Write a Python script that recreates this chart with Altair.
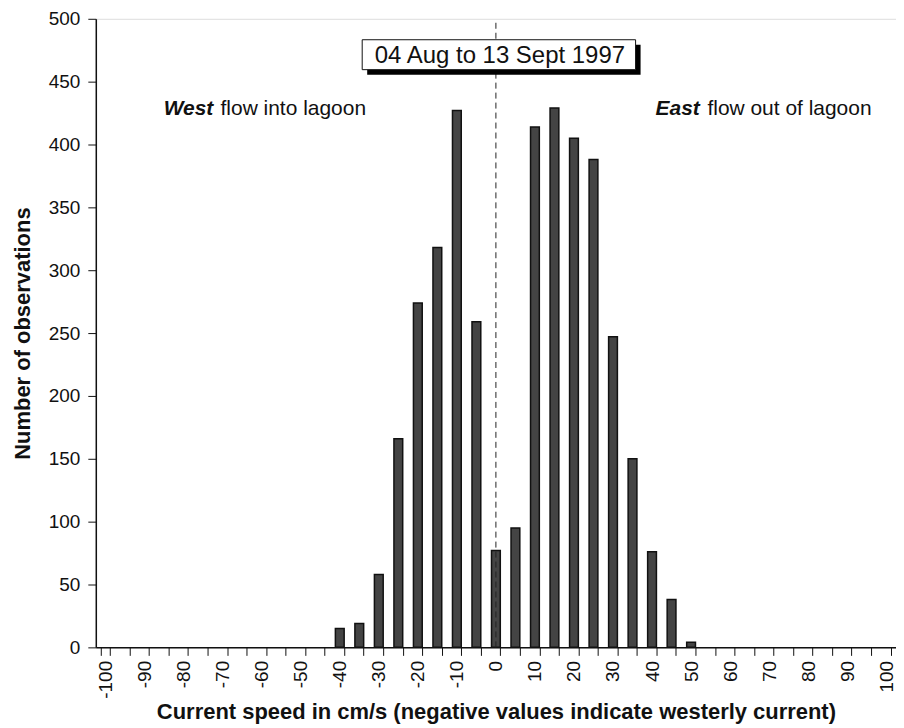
import altair as alt
import pandas as pd

# x categories (cm/s), one per 5 cm/s class
categories = [-100, -95, -90, -85, -80, -75, -70, -65, -60, -55, -50, -45, -40, -35,
              -30, -25, -20, -15, -10, -5, 0, 5, 10, 15, 20, 25, 30, 35, 40, 45, 50,
              55, 60, 65, 70, 75, 80, 85, 90, 95, 100]
# bars that are present
speeds = [-40, -35, -30, -25, -20, -15, -10, -5, 0, 5, 10, 15, 20, 25, 30, 35, 40, 45, 50]
counts = [15, 19, 58, 166, 274, 318, 427, 259, 77, 95, 414, 429, 405, 388, 247, 150, 76, 38, 4]

y_ticks = [0, 50, 100, 150, 200, 250, 300, 350, 400, 450, 500]
date_label = ["04 Aug to 13 Sept 1997"]
west_bold, west_rest = "West", "flow into lagoon"
east_bold, east_rest = "East", "flow out of lagoon"

FONT = "Liberation Sans"
W, H = 802, 630

bars_df = pd.DataFrame({"speed": speeds, "count": counts})

xscale = alt.Scale(domain=categories, paddingInner=0.55, paddingOuter=0.275)
yscale = alt.Scale(domain=[0, 500], nice=False)

xaxis = alt.Axis(
    title="Current speed in cm/s (negative values indicate westerly current)",
    labelExpr="datum.value % 10 == 0 ? datum.label : ''",
    labelAngle=270, labelFont=FONT, labelFontSize=19, labelColor="#111",
    titleFont=FONT, titleFontSize=22, titleFontWeight="bold", titleColor="#111",
    titlePadding=3, tickBand="extent", tickSize=8, tickColor="#111",
    domainColor="#111", domainWidth=1.5, labelPadding=5, grid=False,
)
yaxis = alt.Axis(
    title="Number of observations", values=y_ticks,
    labelFont=FONT, labelFontSize=19, labelColor="#111",
    titleFont=FONT, titleFontSize=22, titleFontWeight="bold", titleColor="#111",
    titlePadding=14, tickSize=8, tickColor="#111", domainColor="#111",
    domainWidth=1.5, labelPadding=8, grid=False,
)

bars = alt.Chart(bars_df).mark_bar(
    fill="#444", stroke="#111", strokeWidth=1.5
).encode(
    x=alt.X("speed:O", scale=xscale, axis=xaxis),
    y=alt.Y("count:Q", scale=yscale, axis=yaxis),
)

rule_df = pd.DataFrame({"speed": [0], "y0": [0], "y1": [500]})
zero_line = alt.Chart(rule_df).mark_rule(
    color="#222", strokeWidth=1, strokeDash=[6, 4]
).encode(
    x=alt.X("speed:O", scale=xscale),
    y=alt.Y("y0:Q", scale=yscale),
    y2="y1:Q",
)

ann_df = pd.DataFrame({"label": date_label})
shadow = alt.Chart(ann_df).mark_rect(fill="#000").encode(
    x=alt.value(272), x2=alt.value(546), y=alt.value(26), y2=alt.value(56)
)
box = alt.Chart(ann_df).mark_rect(fill="white", stroke="#111", strokeWidth=1).encode(
    x=alt.value(267), x2=alt.value(541), y=alt.value(21), y2=alt.value(51)
)
box_text = alt.Chart(ann_df).mark_text(
    font=FONT, fontSize=24, color="#111", align="center", baseline="middle"
).encode(x=alt.value(405), y=alt.value(37), text="label:N")

def txt(s, x, bold):
    return alt.Chart(pd.DataFrame({"t": [s]})).mark_text(
        font=FONT, fontSize=21, color="#111", align="left", baseline="middle",
        fontWeight="bold" if bold else "normal",
        fontStyle="italic" if bold else "normal",
    ).encode(x=alt.value(x), y=alt.value(90), text="t:N")

labels = txt(west_bold, 68, True) + txt(west_rest, 125, False) + \
    txt(east_bold, 561, True) + txt(east_rest, 613, False)

chart = alt.layer(bars, zero_line, shadow, box, box_text, labels).properties(
    width=W, height=H,
    autosize=alt.AutoSizeParams(type="none"),
    padding={"left": 88, "top": 10, "right": 0, "bottom": 78},
).configure_view(stroke="#111", strokeWidth=1.5).configure(background="white")

chart.save("out.html", embed_options={"renderer": "svg", "actions": False})
